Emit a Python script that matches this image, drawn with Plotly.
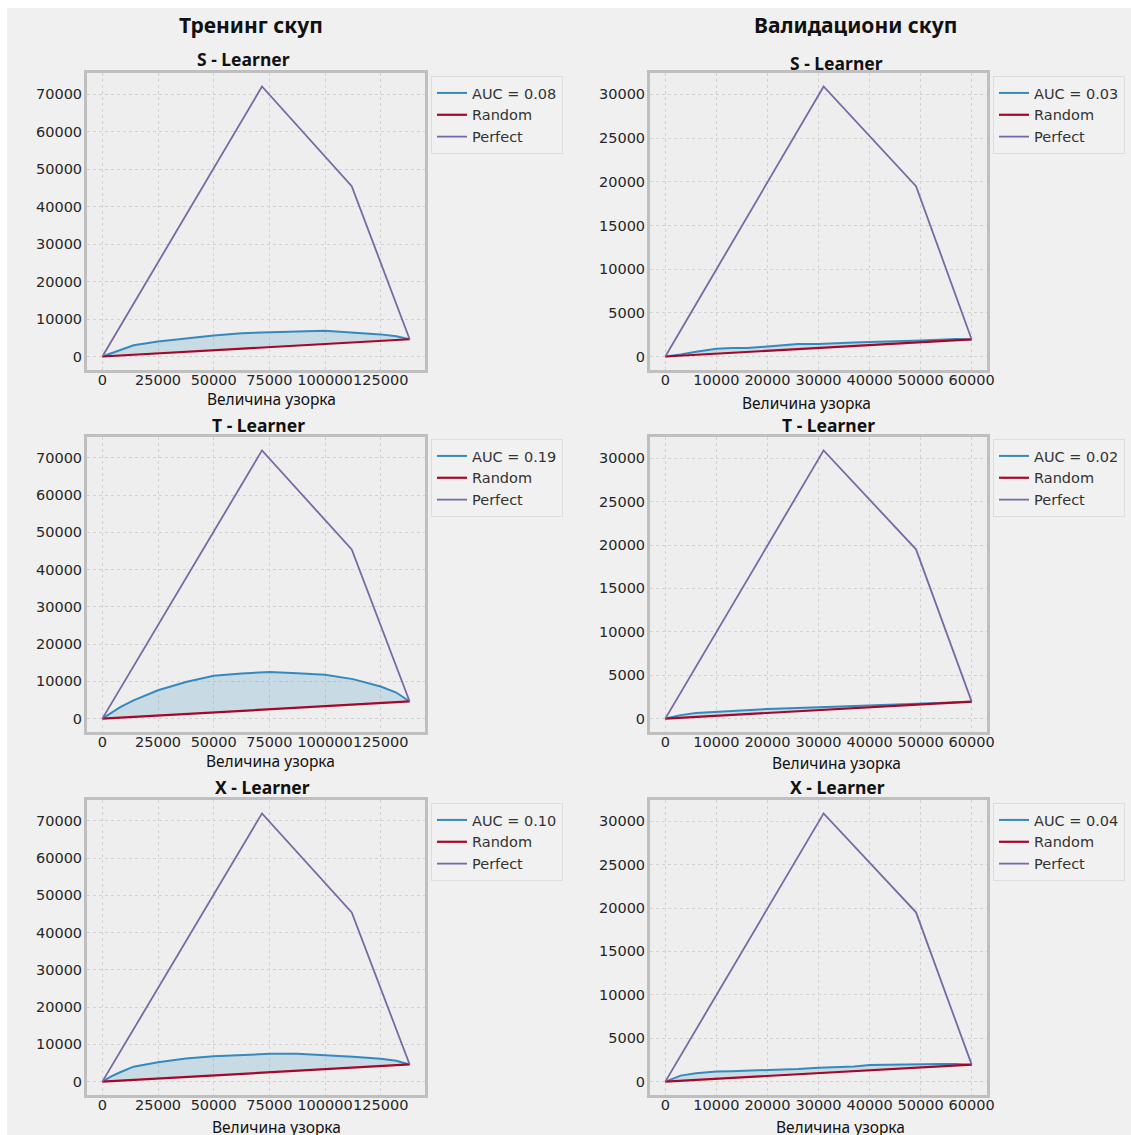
import plotly.graph_objects as go

W, H = 1131, 1135

# sample sizes at which the uplift curves were evaluated
size_train = [0, 4000, 8000, 14000, 25000, 37500, 50000, 62500, 75000,
              87500, 100000, 112500, 125000, 132000, 138000]
size_valid = [0, 3000, 6000, 10000, 13000, 16000, 20000, 23000, 26000, 30000,
              33000, 37000, 40000, 44000, 47000, 50000, 54000, 57000, 60000]

# cumulative uplift of each meta-learner (training set)
s_learner_train = [0, 900, 1800, 3000, 4000, 4900, 5600, 6200, 6550,
                   6700, 6850, 6400, 5900, 5400, 4600]
t_learner_train = [0, 1600, 3100, 4900, 7600, 9800, 11500, 12100, 12500,
                   12200, 11800, 10600, 8600, 7000, 4600]
x_learner_train = [0, 1400, 2500, 4000, 5200, 6200, 6800, 7200, 7450,
                   7450, 7100, 6650, 6100, 5600, 4600]

# cumulative uplift of each meta-learner (validation set)
s_learner_valid = [0, 230, 550, 880, 960, 960, 1150, 1260, 1420, 1420,
                   1530, 1610, 1650, 1690, 1760, 1840, 1920, 2000, 1950]
t_learner_valid = [0, 400, 650, 800, 900, 950, 1100, 1150, 1250, 1300,
                   1350, 1450, 1500, 1550, 1650, 1750, 1850, 1950, 1950]
x_learner_valid = [0, 690, 960, 1150, 1200, 1250, 1340, 1400, 1450, 1600,
                   1650, 1750, 1900, 1950, 2000, 2030, 2040, 2030, 1950]

# random and perfect reference curves
random_train_x = [0, 138000]
random_train_y = [0, 4600]
random_valid_x = [0, 60000]
random_valid_y = [0, 1950]
perfect_train_x = [0, 71700, 112000, 138000]
perfect_train_y = [0, 72000, 45400, 4600]
perfect_valid_x = [0, 31000, 49100, 60000]
perfect_valid_y = [0, 30900, 19500, 1950]

auc_train = ["0.08", "0.19", "0.10"]
auc_valid = ["0.03", "0.02", "0.04"]
learners = ["S - Learner", "T - Learner", "X - Learner"]

xticks_train = [0, 25000, 50000, 75000, 100000, 125000]
xticks_valid = [0, 10000, 20000, 30000, 40000, 50000, 60000]
yticks_train = [0, 10000, 20000, 30000, 40000, 50000, 60000, 70000]
yticks_valid = [0, 5000, 10000, 15000, 20000, 25000, 30000]

BLUE, RED, PURPLE = "#348ABD", "#A60628", "#7A68A6"
FILL = "rgba(52,138,189,0.2)"
TICK_FONT = dict(family="DejaVu Sans", size=14.5, color="#262626")
TEXT_FONT = "Noto Sans"

# pixel boxes of the panels: (left, right) columns and (top, bottom) rows
cols_px = [(87, 425), (650, 987)]
rows_px = [(73, 370), (437, 732), (800, 1095)]
legend_px = [(431, 76), (431, 439), (431, 803), (993, 76), (993, 439), (993, 803)]

def fx(px):
    return px / W

def fy(py):
    return 1 - py / H

fig = go.Figure()
layout = {}

panels = []
for c, (sizes, curves, aucs, rx, ry, pxs, pys, xt, yt) in enumerate([
    (size_train, [s_learner_train, t_learner_train, x_learner_train], auc_train,
     random_train_x, random_train_y, perfect_train_x, perfect_train_y,
     xticks_train, yticks_train),
    (size_valid, [s_learner_valid, t_learner_valid, x_learner_valid], auc_valid,
     random_valid_x, random_valid_y, perfect_valid_x, perfect_valid_y,
     xticks_valid, yticks_valid),
]):
    for r in range(3):
        panels.append((c, r, sizes, curves[r], aucs[r], rx, ry, pxs, pys, xt, yt))

for i, (c, r, sizes, uplift, auc, rx, ry, pxs, pys, xt, yt) in enumerate(panels):
    k = i + 1
    xa = "x" if k == 1 else f"x{k}"
    ya = "y" if k == 1 else f"y{k}"
    leg = "legend" if k == 1 else f"legend{k}"

    # shaded area between the random line and the uplift curve
    fig.add_trace(go.Scatter(x=rx, y=ry, mode="lines", line=dict(width=0),
                             showlegend=False, hoverinfo="skip",
                             xaxis=xa, yaxis=ya, legend=leg))
    fig.add_trace(go.Scatter(x=sizes, y=uplift, mode="lines", line=dict(width=0),
                             fill="tonexty", fillcolor=FILL,
                             showlegend=False, hoverinfo="skip",
                             xaxis=xa, yaxis=ya, legend=leg))
    fig.add_trace(go.Scatter(x=sizes, y=uplift, mode="lines",
                             line=dict(color=BLUE, width=2),
                             name=f"AUC = {auc}", xaxis=xa, yaxis=ya, legend=leg))
    fig.add_trace(go.Scatter(x=rx, y=ry, mode="lines",
                             line=dict(color=RED, width=2.2),
                             name="Random", xaxis=xa, yaxis=ya, legend=leg))
    fig.add_trace(go.Scatter(x=pxs, y=pys, mode="lines",
                             line=dict(color=PURPLE, width=1.8),
                             name="Perfect", xaxis=xa, yaxis=ya, legend=leg))

    xmax = max(pxs)
    ymax = max(pys)
    x0, x1 = cols_px[c]
    y0, y1 = rows_px[r]
    axis_common = dict(
        showline=True, mirror=True, linecolor="#bfbfbf", linewidth=3,
        showgrid=True, gridcolor="#d2d2d2", griddash="dot", gridwidth=1,
        zeroline=False, ticks="", tickfont=TICK_FONT, automargin=False,
    )
    layout["xaxis" if k == 1 else f"xaxis{k}"] = dict(
        axis_common, domain=[fx(x0), fx(x1)], anchor=ya,
        range=[-0.05 * xmax, 1.05 * xmax],
        tickvals=xt, ticktext=[str(v) for v in xt],
        tickangle=0, ticklabelstandoff=-5,
    )
    layout["yaxis" if k == 1 else f"yaxis{k}"] = dict(
        axis_common, domain=[fy(y1), fy(y0)], anchor=xa,
        range=[-0.05 * ymax, 1.05 * ymax],
        tickvals=yt, ticktext=[str(v) for v in yt],
        ticklabelstandoff=-1,
    )
    lx, ly = legend_px[i]
    layout[leg] = dict(
        x=fx(lx), y=fy(ly), xanchor="left", yanchor="top",
        bgcolor="rgba(241,241,241,0.9)", bordercolor="#dddddd", borderwidth=1,
        font=dict(family="DejaVu Sans", size=14.5, color="#333333"),
        itemwidth=30, tracegroupgap=0, traceorder="normal",
    )

annotations = []

def text(x, y, s, size, bold=False):
    annotations.append(dict(
        x=fx(x), y=fy(y), xref="paper", yref="paper", showarrow=False,
        xanchor="center", yanchor="middle",
        text=f"<b>{s}</b>" if bold else s,
        font=dict(family=TEXT_FONT, size=size, color="#111111"),
    ))

text(251, 25, "Тренинг скуп", 21, bold=True)
text(855, 25, "Валидациони скуп", 21, bold=True)

title_px = [(243, 59), (258, 425), (262, 787), (836, 63), (828, 425), (837, 787)]
xlabel_px = [(271, 399), (270, 761), (276, 1127), (806, 403), (836, 763), (840, 1127)]
for i, (c, r, *_rest) in enumerate(panels):
    tx, ty = title_px[i]
    text(tx, ty, learners[r], 17.5, bold=True)
    lx, ly = xlabel_px[i]
    text(lx, ly, "Величина узорка", 15.5)

layout["annotations"] = annotations
# white strips along the top and left edges of the canvas
layout["shapes"] = [
    dict(type="rect", xref="paper", yref="paper", x0=0, x1=1, y0=fy(8), y1=1,
         fillcolor="white", line=dict(width=0), layer="above"),
    dict(type="rect", xref="paper", yref="paper", x0=0, x1=fx(7), y0=0, y1=1,
         fillcolor="white", line=dict(width=0), layer="above"),
]

fig.update_layout(
    width=W, height=H,
    margin=dict(l=0, r=0, t=0, b=0),
    paper_bgcolor="#f0f0f0", plot_bgcolor="#eeeeee",
    **layout,
)

fig.write_html("out.html")
